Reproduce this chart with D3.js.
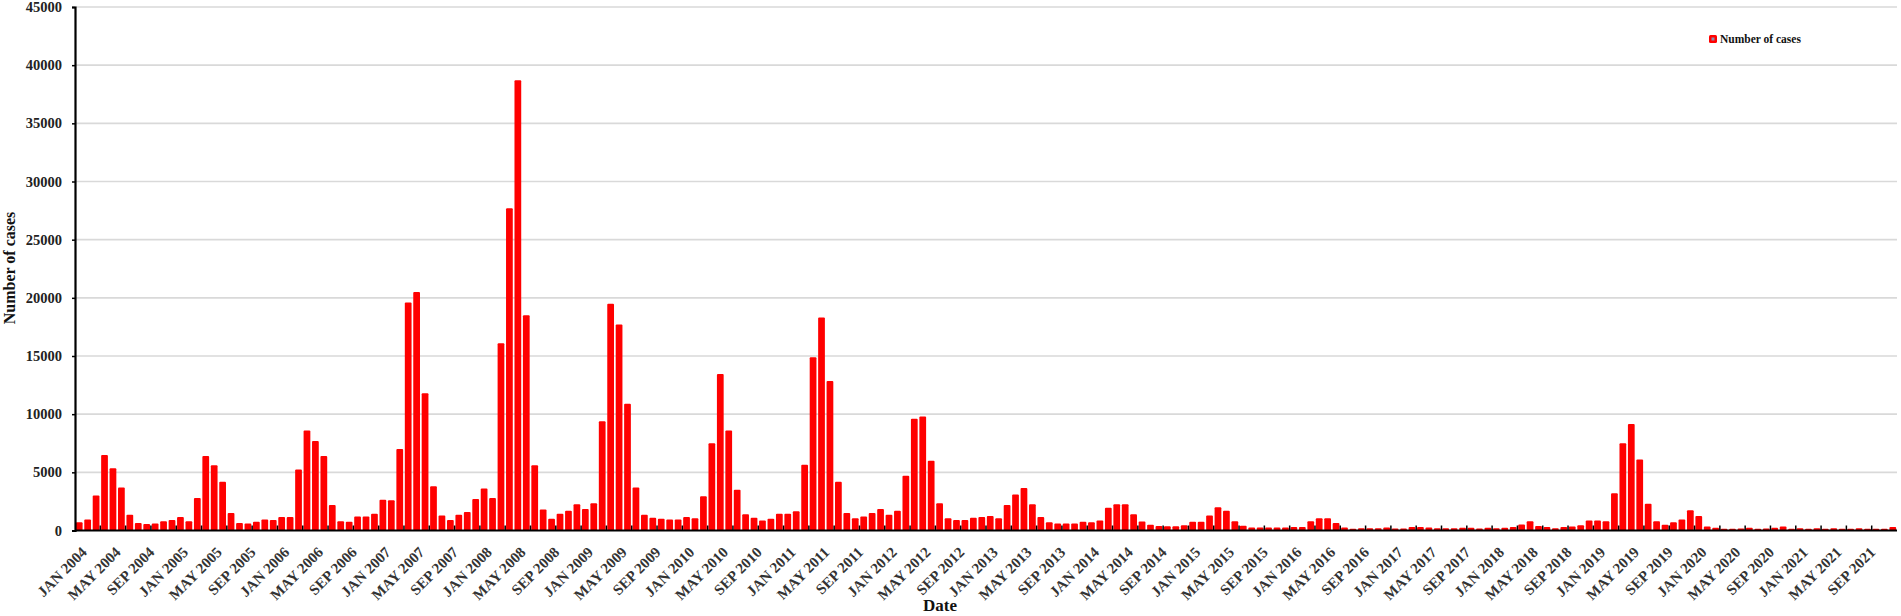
<!DOCTYPE html>
<html><head><meta charset="utf-8">
<script src="https://cdn.jsdelivr.net/npm/d3@7"></script>
<style>
html,body{margin:0;padding:0;background:#fff;}
svg text{font-family:"Liberation Serif","Times New Roman",serif;font-weight:bold;}
</style></head>
<body><svg id="c" width="1901" height="616"></svg>
<script>
const startYear = 2004, endYear = 2021;
const monthNames = ["JAN","FEB","MAR","APR","MAY","JUN","JUL","AUG","SEP","OCT","NOV","DEC"];
const cases = [
 // 2004
 700,950,3000,6500,5350,3700,1350,650,550,600,800,900,
 // 2005
 1150,800,2800,6400,5600,4200,1500,650,600,750,950,900,
 // 2006
 1150,1150,5250,8600,7700,6400,2200,800,750,1200,1200,1450,
 // 2007
 2650,2600,7000,19600,20500,11800,3800,1300,900,1350,1600,2700,
 // 2008
 3600,2800,16100,27700,38700,18500,5600,1800,1000,1450,1700,2250,
 // 2009
 1850,2350,9400,19500,17700,10900,3700,1350,1100,1000,950,950,
 // 2010
 1150,1050,2950,7500,13450,8600,3500,1400,1100,850,1000,1450,
 // 2011
 1450,1650,5650,14900,18300,12850,4200,1500,1050,1200,1500,1850,
 // 2012
 1350,1700,4700,9600,9800,6000,2350,1050,900,900,1100,1150,
 // 2013
 1250,1050,2200,3100,3650,2250,1150,700,600,600,600,750,
 // 2014
 700,850,1950,2250,2250,1400,780,500,380,370,370,450,
 // 2015
 750,750,1300,2000,1700,800,400,250,250,250,250,250,
 // 2016
 300,300,800,1050,1050,650,250,150,200,200,200,250,
 // 2017
 180,180,300,300,250,200,200,200,230,230,180,230,
 // 2018
 200,230,300,520,800,380,300,200,300,350,450,850,
 // 2019
 850,800,3200,7500,9150,6100,2300,800,500,700,950,1750,
 // 2020
 1250,350,230,150,150,170,230,150,170,230,340,150,
 // 2021
 200,150,200,150,200,150,150,200,150,150,150,300
];
const yTicks = [0,5000,10000,15000,20000,25000,30000,35000,40000,45000];
const seriesName = "Number of cases";
const xTitle = "Date", yTitle = "Number of cases";

const dates = [];
for (let y = startYear; y <= endYear; y++) for (let m = 0; m < 12; m++) dates.push(monthNames[m] + " " + y);
const data = dates.map((d, i) => ({date: d, value: cases[i], idx: i}));

const svg = d3.select("#c");
const M = {left: 75, right: 1897, top: 7, bottom: 530.5};

const x = d3.scaleBand().domain(dates).range([M.left, M.right]).paddingInner(0.2).paddingOuter(0.1);
const y = d3.scaleLinear().domain([0, 45000]).range([M.bottom, M.top]);

// gridlines
svg.append("g").selectAll("line").data(yTicks.filter(t => t > 0)).join("line")
  .attr("x1", M.left).attr("x2", M.right)
  .attr("y1", d => y(d)).attr("y2", d => y(d))
  .attr("stroke", "#d9d9d9").attr("stroke-width", 1.6);

// bars
svg.append("g").selectAll("rect").data(data).join("rect")
  .attr("x", d => x(d.date)).attr("width", x.bandwidth())
  .attr("y", d => y(d.value)).attr("height", d => y(0) - y(d.value))
  .attr("rx", 1).attr("fill", "#ff0000");

// quarterly ticks on x axis (inside)
const step = x.step();
const qTicks = d3.range(3, dates.length, 3);
svg.append("g").selectAll("line").data(qTicks).join("line")
  .attr("x1", d => M.left + d * step).attr("x2", d => M.left + d * step)
  .attr("y1", y(0)).attr("y2", y(0) - 5)
  .attr("stroke", "#000").attr("stroke-width", 1.5);

// x axis line
svg.append("line").attr("x1", M.left).attr("x2", M.right)
  .attr("y1", y(0)).attr("y2", y(0)).attr("stroke", "#000").attr("stroke-width", 2);

// y axis
const yAxis = d3.axisLeft(y).tickValues(yTicks).tickSize(3).tickPadding(10).tickFormat(d3.format("d"));
const gy = svg.append("g").attr("transform", `translate(${M.left},0)`).call(yAxis);
gy.select(".domain").attr("stroke", "#000").attr("stroke-width", 2.2);
gy.selectAll(".tick line").attr("stroke", "#000").attr("stroke-width", 1.5);
gy.selectAll(".tick text").attr("font-size", 14.5).attr("fill", "#222")
  .style("font-family", '"Liberation Serif",serif').style("font-weight", "bold");

// x labels every 4 months
const xLabels = dates.filter((d, i) => i % 4 === 0);
svg.append("g").selectAll("text").data(xLabels).join("text")
  .attr("transform", d => `translate(${x(d) + x.bandwidth() / 2 + 5},${y(0) + 19}) rotate(-45)`)
  .attr("text-anchor", "end").attr("dy", "0.35em")
  .attr("font-size", 15).attr("fill", "#333").text(d => d);

// axis titles
svg.append("text").attr("x", 940).attr("y", 611).attr("text-anchor", "middle")
  .attr("font-size", 17).attr("fill", "#111").text(xTitle);
svg.append("text").attr("transform", `translate(15,268) rotate(-90)`).attr("text-anchor", "middle")
  .attr("font-size", 16).attr("fill", "#111").text(yTitle);

// legend
const lg = svg.append("g").attr("transform", "translate(1709,35)");
lg.append("rect").attr("width", 8).attr("height", 8).attr("rx", 1.5).attr("fill", "#ff0000");
lg.append("rect").attr("x", 2.5).attr("y", 2.5).attr("width", 3).attr("height", 3).attr("fill", "#8a8fb0");
lg.append("text").attr("x", 11).attr("y", 8).attr("font-size", 11.5).attr("fill", "#111").text(seriesName);
</script></body></html>
